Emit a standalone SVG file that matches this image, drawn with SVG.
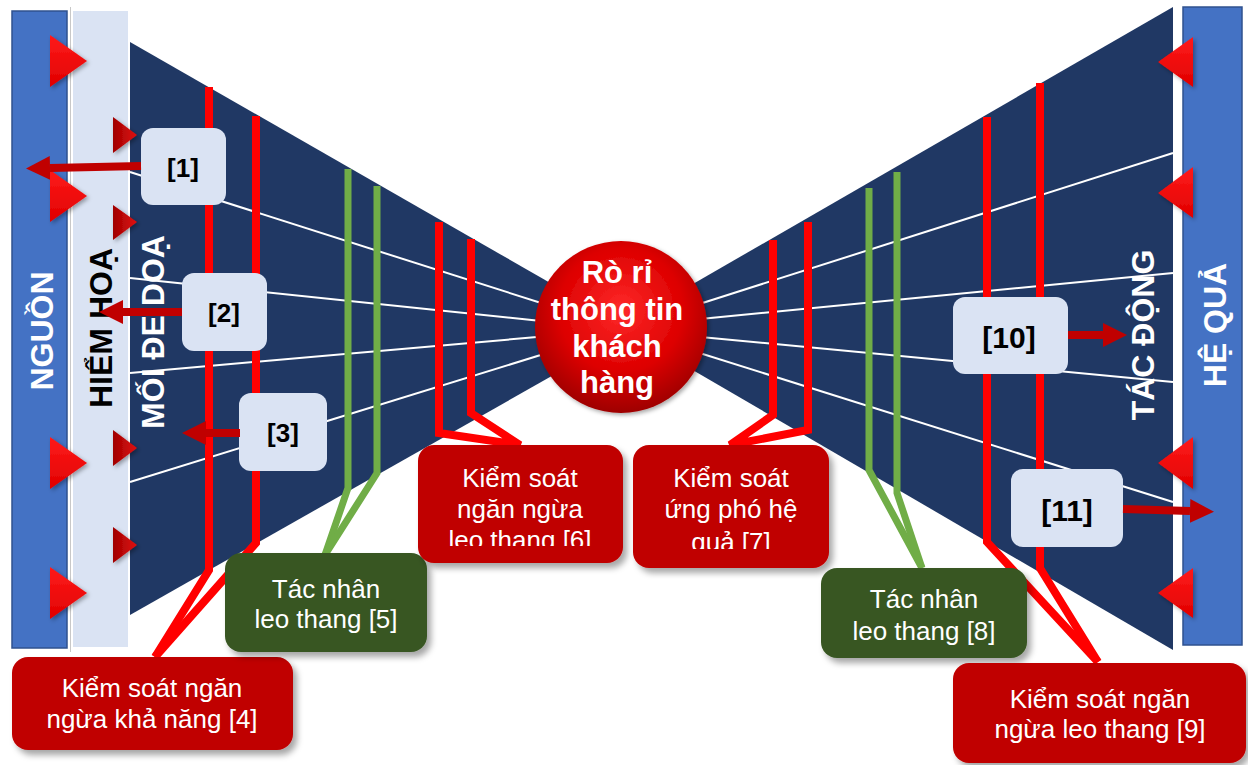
<svg xmlns="http://www.w3.org/2000/svg" width="1248" height="765" viewBox="0 0 1248 765">
<defs>
<style>
.navy{fill:#203864}
.ray{stroke:#fff;stroke-width:2;fill:none}
.rl{stroke:#ff0000;stroke-width:8;fill:none;stroke-linejoin:miter}
.gl{stroke:#70AD47;stroke-width:7;fill:none}
.arr{stroke:#C00000;stroke-width:8;fill:none}
.lb{fill:#DAE3F3}
.rb{fill:#C00000}
.gb{fill:#385723}
.num{font-family:"Liberation Sans",Arial,sans-serif;font-weight:bold;fill:#000;text-anchor:middle;dominant-baseline:central}
.bt{font-family:"Liberation Sans",Arial,sans-serif;font-size:26px;fill:#fff;text-anchor:middle}
.vt{font-family:"Liberation Sans",Arial,sans-serif;font-weight:bold;font-size:32px;text-anchor:middle;dominant-baseline:central}
.ct{font-family:"Liberation Sans",Arial,sans-serif;font-weight:bold;font-size:31px;fill:#fff;text-anchor:middle}
.tb{fill:url(#tg)}
.ts{fill:url(#tsg)}
</style>
<filter id="sh" x="-10%" y="-10%" width="130%" height="140%">
<feDropShadow dx="4" dy="5" stdDeviation="3" flood-color="#000" flood-opacity="0.35"/>
</filter>
<filter id="tsh" x="-30%" y="-30%" width="170%" height="170%">
<feDropShadow dx="2" dy="2" stdDeviation="2" flood-color="#000" flood-opacity="0.35"/>
</filter>
<radialGradient id="cg" cx="50%" cy="40%" r="60%">
<stop offset="0" stop-color="#ff2a2a"/>
<stop offset="0.6" stop-color="#dd0000"/>
<stop offset="1" stop-color="#9e0000"/>
</radialGradient>
<linearGradient id="tg" x1="0" y1="0" x2="0" y2="1">
<stop offset="0" stop-color="#ff1a1a"/>
<stop offset="1" stop-color="#e00000"/>
</linearGradient>
<linearGradient id="tsg" x1="0" y1="0" x2="1" y2="0">
<stop offset="0" stop-color="#a00000"/>
<stop offset="1" stop-color="#e01010"/>
</linearGradient>
<marker id="ah" viewBox="0 0 24 24" refX="0" refY="12" markerWidth="24" markerHeight="24" markerUnits="userSpaceOnUse" orient="auto">
<path d="M0,0 L24,12 L0,24 Z" fill="#C00000"/>
</marker>
<clipPath id="c6"><rect x="418" y="445" width="205" height="101"/></clipPath>
<clipPath id="c7"><rect x="633" y="445" width="196" height="104"/></clipPath>
</defs>

<g id="source-bar">
<rect x="12" y="11" width="55" height="637" fill="#4472C4" stroke="#2F528F" stroke-width="1.5"/>
<line x1="70.5" y1="7" x2="70.5" y2="652" stroke="#c8c8c8" stroke-width="1"/>
<text class="vt" fill="#fff" transform="translate(42,331) rotate(-90)">NGUỒN</text>
</g>

<g id="hazard-bar">
<rect x="73" y="11" width="55" height="636" class="lb"/>
</g>

<g id="left-funnel">
<polygon class="navy" points="130,42 580,300 580,360 130,615"/>
<line class="ray" x1="130" y1="172" x2="560" y2="309"/>
<line class="ray" x1="130" y1="278" x2="560" y2="323"/>
<line class="ray" x1="130" y1="373" x2="560" y2="335"/>
<line class="ray" x1="130" y1="482" x2="560" y2="349"/>
</g>

<g id="right-funnel">
<polygon class="navy" points="660,303 1173,7 1173,650 660,351"/>
<line class="ray" x1="690" y1="307" x2="1173" y2="153"/>
<line class="ray" x1="690" y1="320" x2="1173" y2="273"/>
<line class="ray" x1="690" y1="336" x2="1173" y2="382"/>
<line class="ray" x1="690" y1="350" x2="1173" y2="502"/>
</g>

<g id="impact-bar">
<rect x="1183" y="7" width="59" height="638" fill="#4472C4" stroke="#2F528F" stroke-width="1.5"/>
<text class="vt" fill="#fff" transform="translate(1215,325) rotate(-90)">HỆ QUẢ</text>
</g>

<g id="labels">
<text class="vt" fill="#000" transform="translate(101,328) rotate(-90)">HIỂM HOẠ</text>
<text class="vt" fill="#fff" transform="translate(153,332) rotate(-90)">MỐI ĐE DOẠ</text>
<text class="vt" fill="#fff" transform="translate(1143,335) rotate(-90)">TÁC ĐỘNG</text>
</g>

<g id="triangles" filter="url(#tsh)">
<polygon class="tb" points="50,35 87,61 50,87"/>
<polygon class="tb" points="50,170 87,196 50,222"/>
<polygon class="tb" points="50,437 87,463 50,489"/>
<polygon class="tb" points="50,567 87,593 50,619"/>
<polygon class="ts" points="113,117 137,135 113,153"/>
<polygon class="ts" points="113,205 137,222 113,240"/>
<polygon class="ts" points="113,430 137,448 113,466"/>
<polygon class="ts" points="113,527 137,545 113,563"/>
<polygon class="tb" points="1193,37 1158,62 1193,87"/>
<polygon class="tb" points="1193,167 1158,193 1193,218"/>
<polygon class="tb" points="1193,437 1158,463 1193,489"/>
<polygon class="tb" points="1193,568 1158,593 1193,618"/>
</g>

<g id="connectors">
<polyline class="rl" points="209,87 209,570 155,657"/>
<polyline class="rl" points="256,116 256,543 155,657"/>
<polyline class="gl" points="348,169 348,488 325,555"/>
<polyline class="gl" points="377,186 377,473 325,555"/>
<polyline class="rl" points="439,222 439,433 520,445 471,413 471,239"/>
<polyline class="rl" points="773,240 773,415 730,445 808,430 808,222"/>
<polyline class="gl" points="869,188 869,470 922,568"/>
<polyline class="gl" points="897,172 897,493 922,568"/>
<polyline class="rl" points="987,117 987,542 1098,662"/>
<polyline class="rl" points="1040,83 1040,568 1098,662"/>
</g>

<g id="leak">
<circle cx="621" cy="327" r="86" fill="url(#cg)" filter="url(#tsh)"/>
<text class="ct" x="617" y="283">Rò rỉ</text>
<text class="ct" x="617" y="320">thông tin</text>
<text class="ct" x="617" y="357">khách</text>
<text class="ct" x="617" y="393">hàng</text>
</g>

<g id="n1"><rect x="141" y="128" width="85" height="77" rx="12" class="lb"/><text class="num" x="183" y="168" font-size="26">[1]</text></g>
<g id="n2"><rect x="182" y="273" width="85" height="78" rx="12" class="lb"/><text class="num" x="224" y="313" font-size="26">[2]</text></g>
<g id="n3"><rect x="239" y="393" width="88" height="78" rx="12" class="lb"/><text class="num" x="283" y="433" font-size="26">[3]</text></g>
<g id="n10"><rect x="953" y="297" width="115" height="77" rx="12" class="lb"/><text class="num" x="1009" y="337" font-size="30">[10]</text></g>
<g id="n11"><rect x="1011" y="469" width="112" height="78" rx="12" class="lb"/><text class="num" x="1067" y="510" font-size="30">[11]</text></g>

<g id="arrows">
<line class="arr" x1="141" y1="166" x2="50" y2="168" marker-end="url(#ah)"/>
<line class="arr" x1="182" y1="312" x2="123" y2="312" marker-end="url(#ah)"/>
<line class="arr" x1="240" y1="433" x2="206" y2="433" marker-end="url(#ah)"/>
<line class="arr" x1="1068" y1="335" x2="1103" y2="335" marker-end="url(#ah)"/>
<line class="arr" x1="1123" y1="509" x2="1190" y2="511" marker-end="url(#ah)"/>
</g>

<g id="n4"><rect x="12" y="657" width="281" height="93" rx="16" class="rb" filter="url(#sh)"/>
<text class="bt" x="152" y="697">Kiểm soát ngăn</text><text class="bt" x="152" y="728">ngừa khả năng [4]</text></g>

<g id="n5"><rect x="225" y="553" width="202" height="99" rx="16" class="gb" filter="url(#sh)"/>
<text class="bt" x="326" y="598">Tác nhân</text><text class="bt" x="326" y="628">leo thang [5]</text></g>

<g id="n6"><rect x="418" y="445" width="205" height="118" rx="16" class="rb" filter="url(#sh)"/>
<g clip-path="url(#c6)"><text class="bt" x="520" y="487">Kiểm soát</text><text class="bt" x="520" y="518">ngăn ngừa</text><text class="bt" x="520" y="549">leo thang [6]</text></g></g>

<g id="n7"><rect x="633" y="445" width="196" height="123" rx="16" class="rb" filter="url(#sh)"/>
<g clip-path="url(#c7)"><text class="bt" x="731" y="487">Kiểm soát</text><text class="bt" x="731" y="518">ứng phó hệ</text><text class="bt" x="731" y="551">quả [7]</text></g></g>

<g id="n8"><rect x="821" y="568" width="206" height="90" rx="16" class="gb" filter="url(#sh)"/>
<text class="bt" x="924" y="608">Tác nhân</text><text class="bt" x="924" y="640">leo thang [8]</text></g>

<g id="n9"><rect x="953" y="663" width="293" height="100" rx="16" class="rb" filter="url(#sh)"/>
<text class="bt" x="1100" y="708">Kiểm soát ngăn</text><text class="bt" x="1100" y="738">ngừa leo thang [9]</text></g>
</svg>
